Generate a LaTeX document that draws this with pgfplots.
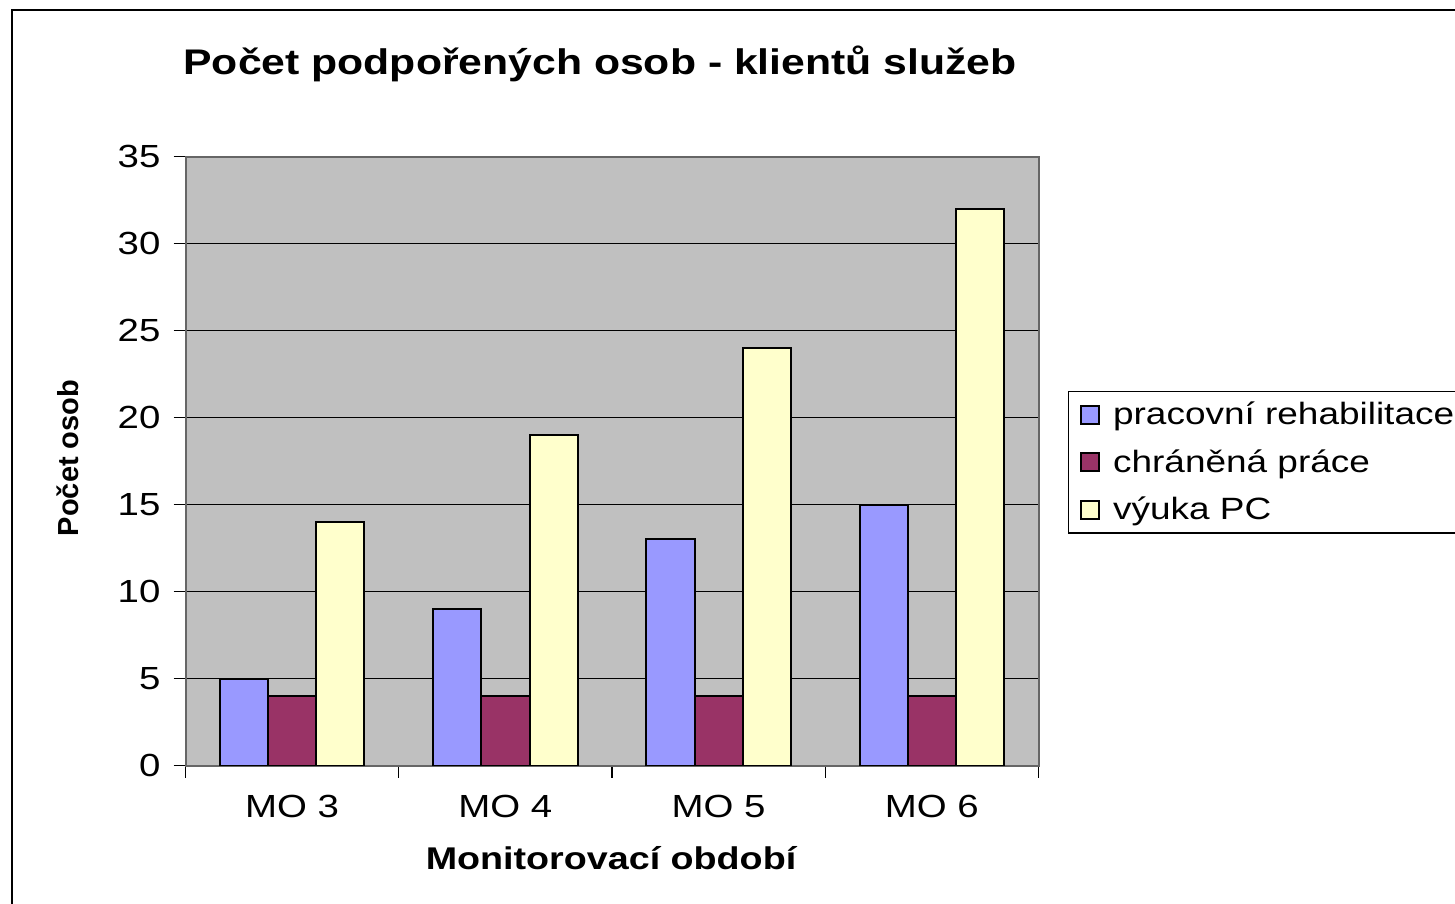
\documentclass[border=0pt]{standalone}
\usepackage{fontspec}
\setmainfont{Liberation Sans}[FakeStretch=1.2]
\newfontfamily\plainfont{Liberation Sans}
\usepackage{pgfplots}
\pgfplotsset{compat=1.18}
\definecolor{cblue}{HTML}{9999FF}
\definecolor{cmaroon}{HTML}{993366}
\definecolor{cyellow}{HTML}{FFFFCC}
\definecolor{cgray}{HTML}{C0C0C0}
\begin{document}
\begin{tikzpicture}[x=1pt,y=1pt]
\useasboundingbox (0,0) rectangle (727.5,452);
\draw[line width=1pt] (6,-10) -- (6,447) -- (740,447);
\node[font=\bfseries\fontsize{17.8}{21}\selectfont] at (300,420) {Počet podpořených osob - klientů služeb};
\begin{axis}[
  at={(87,79.5)}, anchor=south west, scale only axis,
  width=426.5pt, height=304.5pt,
  xmin=-0.5, xmax=3.5, ymin=0, ymax=35,
  ybar=0pt, bar width=0.226,
  axis background/.style={fill=cgray},
  xtick={-0.5,0.5,1.5,2.5,3.5},
  x tick label as interval,
  xticklabels={MO 3,MO 4,MO 5,MO 6},
  ytick={0,5,...,35},
  tick align=outside, major tick length=6pt,
  xtick pos=bottom, ytick pos=left,
  every tick/.style={black, line width=0.6pt},
  ymajorgrids, grid style={black, line width=0.5pt},
  axis line style={draw=gray!80!black, line width=1pt},
  ticklabel style={font=\fontsize{16}{18}\selectfont},
  /pgf/number format/assume math mode=true,
  xticklabel style={yshift=-5pt},
  yticklabel style={xshift=-3pt},
  legend style={at={(1.034,0.498)}, anchor=west, draw=black, line width=0.6pt,
    font=\fontsize{15.4}{17}\selectfont, row sep=7pt, inner xsep=6pt, inner ysep=3pt,
    cells={anchor=west}},
  legend cell align=left,
  legend image code/.code={\draw[#1, line width=1pt] (0pt,-4.5pt) rectangle (9pt,4.5pt);
    \path[draw=none, fill=none] (0pt,0pt) rectangle (14pt,0pt);},
]
\addplot[fill=cblue, draw=black, line width=1pt] coordinates {(0,5) (1,9) (2,13) (3,15)};
\addplot[fill=cmaroon, draw=black, line width=1pt] coordinates {(0,4) (1,4) (2,4) (3,4)};
\addplot[fill=cyellow, draw=black, line width=1pt] coordinates {(0,14) (1,19) (2,24) (3,32)};
\legend{pracovní rehabilitace, chráněná práce, výuka PC}
\end{axis}
\node[font=\bfseries\fontsize{15.7}{18}\selectfont] at (305.5,23) {Monitorovací období};
\node[rotate=90, font=\plainfont\bfseries\fontsize{14.5}{17}\selectfont] at (34,223) {Počet osob};
\end{tikzpicture}
\end{document}
